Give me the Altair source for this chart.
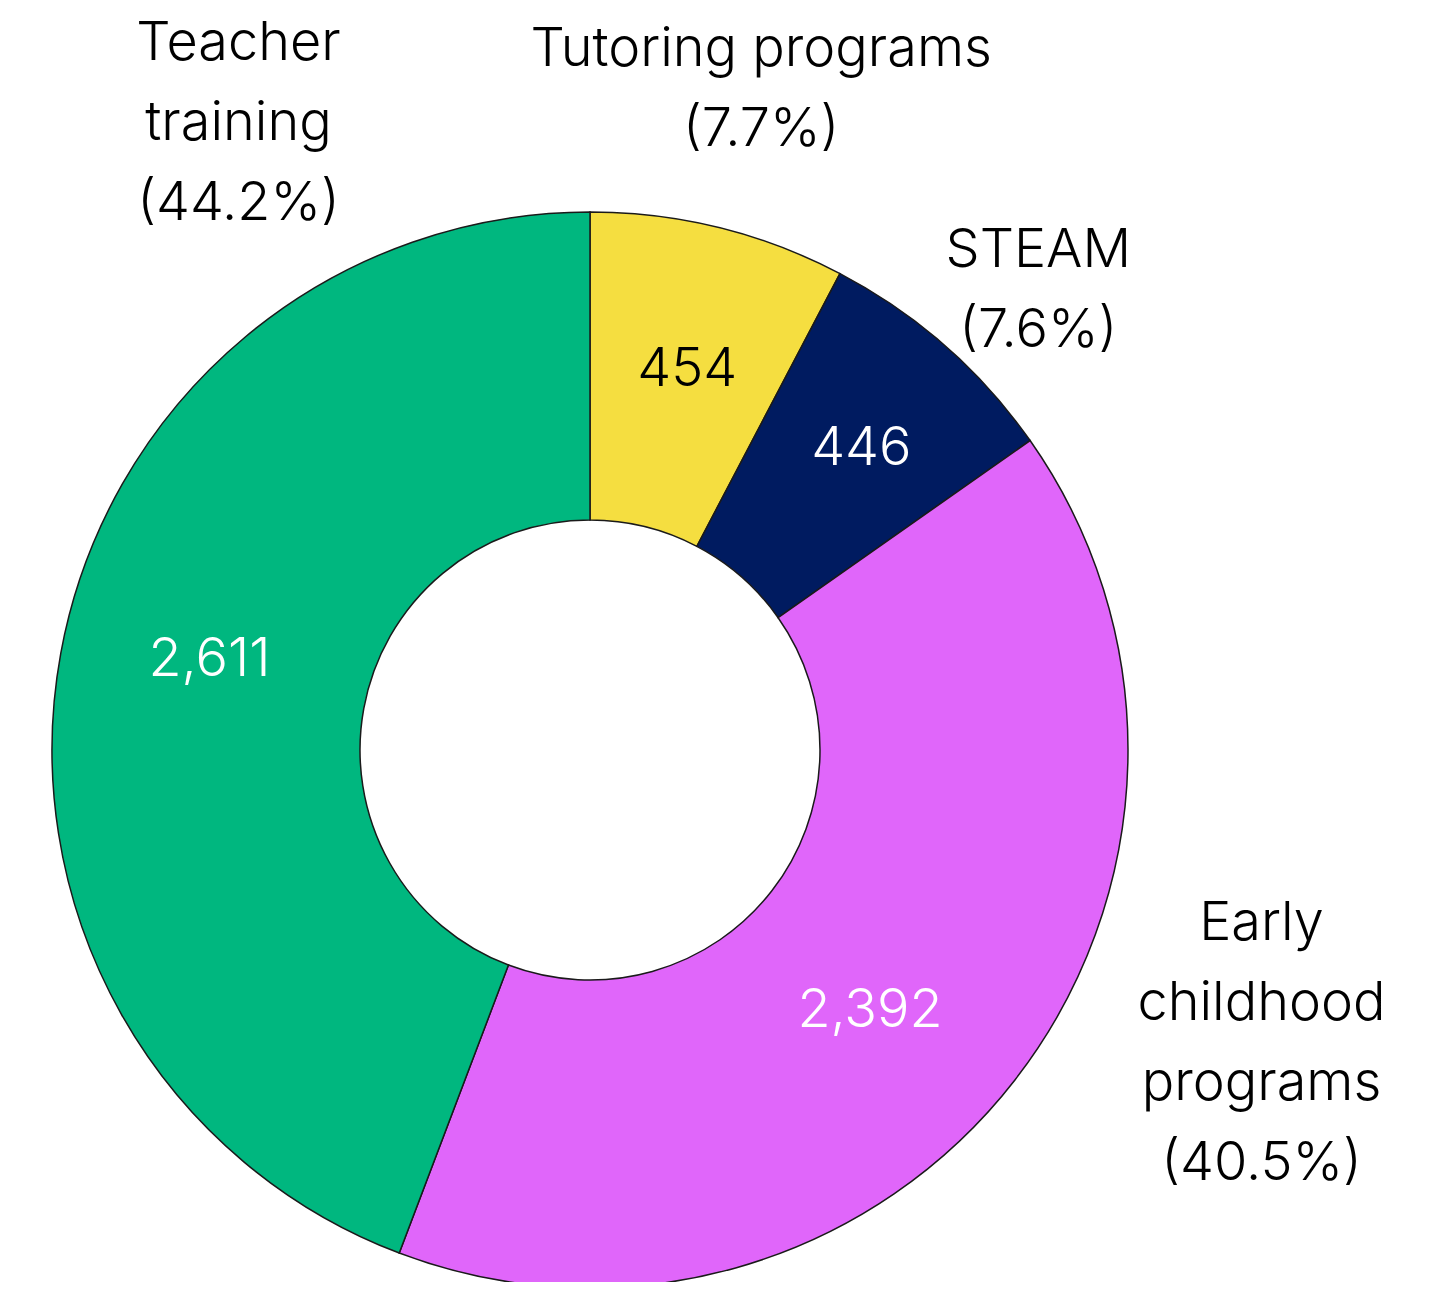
import altair as alt
import pandas as pd

# ---- data ----
categories = ["Tutoring programs", "STEAM", "Early childhood programs", "Teacher training"]
values = [454, 446, 2392, 2611]
percents = ["7.7%", "7.6%", "40.5%", "44.2%"]
label_lines = [
    ["Tutoring programs"],
    ["STEAM"],
    ["Early", "childhood", "programs"],
    ["Teacher", "training"],
]

# ---- style ----
colors = ["#F5DE40", "#001B60", "#E066FA", "#00B77F"]
value_text_colors = ["#000000", "#ffffff", "#ffffff", "#ffffff"]
FONT = "Inter"
FONT_SIZE = 54
FONT_WEIGHT = 300
LINE_HEIGHT = 80
CX, CY = 582, 742
OUTER_R, INNER_R = 538, 230
VALUE_R, LABEL_R = 390, 640
value_offsets = [(4, -1), (14, -8), (-28, 22), (3, -20)]
label_offsets = [(18, -79), (26, -18), (166, -218), (278, -591)]

df = pd.DataFrame({
    "cat": categories,
    "value": values,
    "idx": list(range(len(categories))),
    "label": ["\n".join(l + ["(" + p + ")"]) for l, p in zip(label_lines, percents)],
})

base = alt.Chart(df).encode(
    theta=alt.Theta("value:Q", stack=True),
    order=alt.Order("idx:Q"),
    x=alt.value(CX),
    y=alt.value(CY),
)

arcs = base.mark_arc(
    outerRadius=OUTER_R, innerRadius=INNER_R, stroke="#1a1a1a", strokeWidth=1.5
).encode(
    color=alt.Color("cat:N", scale=alt.Scale(domain=categories, range=colors), legend=None)
)

layers = [arcs]
for i, c in enumerate(categories):
    vdx, vdy = value_offsets[i]
    layers.append(
        base.transform_calculate(
            t=f"datum.cat === '{c}' ? format(datum.value, ',') : ''"
        ).mark_text(
            radius=VALUE_R, dx=vdx, dy=vdy, font=FONT, fontSize=FONT_SIZE,
            fontWeight=FONT_WEIGHT, align="center", baseline="middle",
            color=value_text_colors[i],
        ).encode(text="t:N")
    )
    ldx, ldy = label_offsets[i]
    layers.append(
        base.transform_calculate(
            t=f"datum.cat === '{c}' ? datum.label : ''"
        ).mark_text(
            radius=LABEL_R, dx=ldx, dy=ldy, font=FONT, fontSize=FONT_SIZE,
            fontWeight=FONT_WEIGHT, align="center", baseline="middle",
            lineBreak="\n", lineHeight=LINE_HEIGHT, color="#000000",
        ).encode(text="t:N")
    )

chart = alt.layer(*layers).properties(
    width=1419, height=1274, padding=0, background="#ffffff",
    autosize=alt.AutoSizeParams(type="none"),
).configure_view(stroke=None)

chart.save("out.html", embed_options={"renderer": "svg", "actions": False})
